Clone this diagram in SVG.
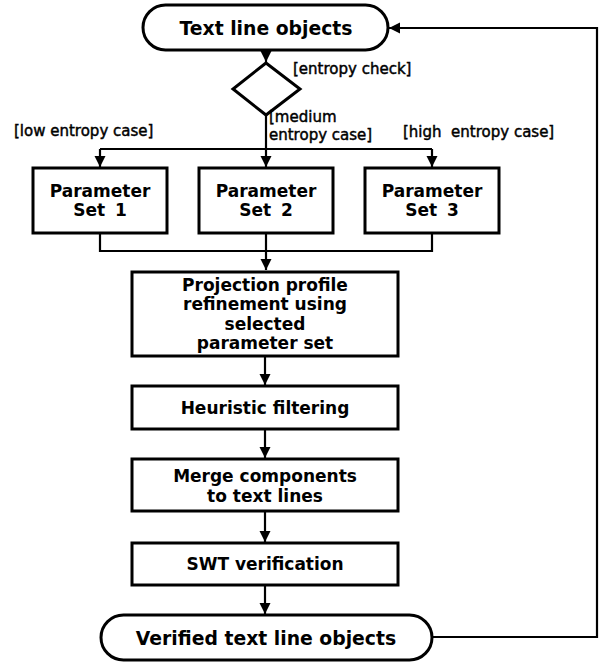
<svg xmlns="http://www.w3.org/2000/svg" width="601" height="663" viewBox="0 0 601 663">
<style>
.box{fill:#fff;stroke:#000;stroke-width:3}
.ln{fill:none;stroke:#000;stroke-width:2.2}
.t{font-family:"DejaVu Sans",Verdana,sans-serif;font-weight:bold;font-size:17px;text-anchor:middle;fill:#000}
.tp{font-family:"DejaVu Sans",Verdana,sans-serif;font-weight:bold;font-size:18.8px;text-anchor:middle;fill:#000}
.lb{font-family:"DejaVu Sans",Verdana,sans-serif;font-size:15px;fill:#000;stroke:#000;stroke-width:0.45;white-space:pre}
</style>
<defs>
<marker id="ah" markerUnits="userSpaceOnUse" markerWidth="12" markerHeight="12" refX="11" refY="5.5" orient="auto">
<path d="M0,0 L11,5.5 L0,11 Z" fill="#000"/>
</marker>
</defs>
<rect width="601" height="663" fill="#fff"/>
<g id="connectors">
<path class="ln" d="M266,50 V62" marker-end="url(#ah)"/>
<path class="ln" d="M266,115 V149"/>
<path class="ln" d="M100,149 H432"/>
<path class="ln" d="M100,149 V167" marker-end="url(#ah)"/>
<path class="ln" d="M266,149 V167" marker-end="url(#ah)"/>
<path class="ln" d="M432,149 V167" marker-end="url(#ah)"/>
<path class="ln" d="M100,233 V251 H432 V233"/>
<path class="ln" d="M266,233 V270" marker-end="url(#ah)"/>
<path class="ln" d="M265,356 V385" marker-end="url(#ah)"/>
<path class="ln" d="M265,429 V458" marker-end="url(#ah)"/>
<path class="ln" d="M265,511 V542" marker-end="url(#ah)"/>
<path class="ln" d="M265,585 V614" marker-end="url(#ah)"/>
<path class="ln" d="M432,637 H597 V28 H389" marker-end="url(#ah)"/>
</g>
<g id="start">
<rect class="box" x="143" y="5" width="245" height="45" rx="22.5"/>
<text class="tp" x="266" y="35">Text line objects</text>
</g>
<g id="decision">
<path class="box" d="M266,63 L300,89 L266,115 L233,89 Z"/>
</g>
<g id="labels">
<text class="lb" x="293" y="74">[entropy check]</text>
<text class="lb" x="14" y="136">[low entropy case]</text>
<text class="lb" x="269" y="122">[medium</text>
<text class="lb" x="269" y="140">entropy case]</text>
<text class="lb" x="403" y="137">[high  entropy case]</text>
</g>
<g id="param1">
<rect class="box" x="33" y="168" width="134" height="65"/>
<text class="t" x="100" y="197">Parameter</text>
<text class="t" x="100" y="216" word-spacing="4">Set 1</text>
</g>
<g id="param2">
<rect class="box" x="199" y="168" width="134" height="65"/>
<text class="t" x="266" y="197">Parameter</text>
<text class="t" x="266" y="216" word-spacing="4">Set 2</text>
</g>
<g id="param3">
<rect class="box" x="365" y="168" width="134" height="65"/>
<text class="t" x="432" y="197">Parameter</text>
<text class="t" x="432" y="216" word-spacing="4">Set 3</text>
</g>
<g id="projection">
<rect class="box" x="132" y="272" width="266" height="84"/>
<text class="t" x="265" y="291">Projection profile</text>
<text class="t" x="265" y="310">refinement using</text>
<text class="t" x="265" y="330">selected</text>
<text class="t" x="265" y="349">parameter set</text>
</g>
<g id="heuristic">
<rect class="box" x="132" y="386" width="266" height="43"/>
<text class="t" x="265" y="414">Heuristic filtering</text>
</g>
<g id="merge">
<rect class="box" x="132" y="459" width="266" height="52"/>
<text class="t" x="265" y="482">Merge components</text>
<text class="t" x="265" y="502">to text lines</text>
</g>
<g id="swt">
<rect class="box" x="132" y="543" width="266" height="42"/>
<text class="t" x="265" y="570">SWT verification</text>
</g>
<g id="end">
<rect class="box" x="101" y="615" width="331" height="45" rx="22.5"/>
<text class="tp" x="266" y="645">Verified text line objects</text>
</g>
</svg>
